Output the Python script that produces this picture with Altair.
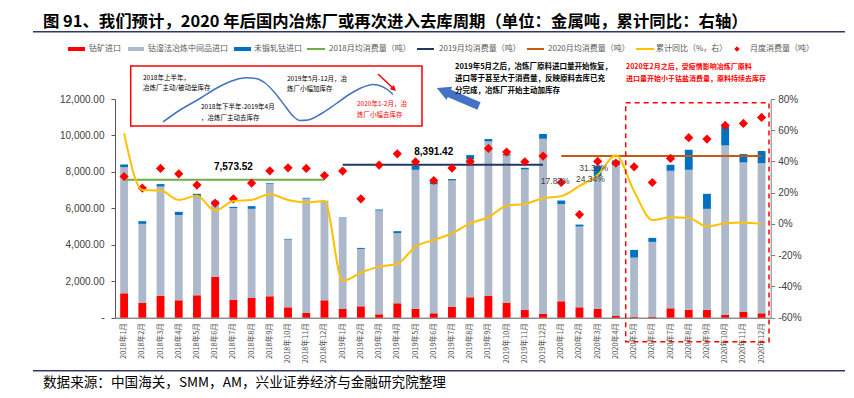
import altair as alt
import pandas as pd

CJK = "Noto Sans CJK SC"
NUM = "Liberation Sans"

# ---------------- data ----------------
years = [2018, 2019, 2020]
months = [f"{y}年{m}月" for y in years for m in range(1, 13)]

bar_names = ["钴矿进口", "钴湿法冶炼中间品进口", "未锻轧钴进口"]
bar_colors = ["#ff0000", "#adb9ca", "#0070c0"]

ore_import = [1340, 824, 1209, 956, 1231, 2253, 989, 1083, 1176, 571, 258, 956,
              478, 626, 187, 791, 495, 242, 588, 1121, 1209, 824, 440, 220,
              901, 571, 478, 93, 40, 60, 516, 440, 440, 148, 313, 242]
intermediate_import = [6925, 4326, 5990, 4671, 5385, 4121, 5022, 4890, 6171, 3715, 6281, 5440,
                       4984, 3149, 5693, 3847, 7621, 7088, 6940, 7583, 8462, 8078, 7693, 9600,
                       5330, 4429, 7272, 8281, 3257, 4100, 7545, 7676, 5533, 9303, 8204, 8242]
metal_import = [142, 147, 131, 181, 181, 46, 72, 148, 38, 39, 38, 17,
                33, 55, 55, 110, 220, 127, 77, 220, 132, 77, 93, 258,
                198, 110, 580, 253, 423, 220, 330, 1099, 824, 1044, 462, 660]
monthly_consumption = [7748, 7110, 8188, 7896, 7275, 6286, 6523, 7385, 8061, 8226, 8188, 7803,
                       8045, 6523, 8374, 8995, 8556, 7528, 8209, 8572, 9287, 9089, 8556, 8869,
                       7418, 5660, 8572, 8484, 8281, 7418, 8737, 9875, 9803, 10550, 10660, 10990]
cumulative_yoy = [58.0, 21.8, 21.4, 15.4, 18.0, 8.5, 14.7, 15.4, 19.0, 15.4, 13.9, 14.7,
                  -36.5, -31.2, -27.3, -25.6, -14.5, -10.3, -6.0, 0.4, 4.3, 11.7, 12.8, 16.5,
                  17.83, 24.34, 31.38, 44.0, 21.0, 2.5, 4.3, 3.8, -1.5, 0.4, 1.0, 0.0]

avg_names = ["2018月均消费量（吨）", "2019月均消费量（吨）", "2020月均消费量（吨）"]
avg_values = [7573.52, 8391.42, 8871.0]
avg_colors = ["#70ad47", "#203864", "#c55a11"]
avg_label_months = ["2018年7月", "2019年6月"]

yoy_name = "累计同比（%，右）"
cons_name = "月度消费量（吨）"
yoy_label_months = ["2020年1月", "2020年2月", "2020年3月"]

# ---------------- geometry ----------------
W, H = 655.7, 218.7
OX, OY = 115, 99  # plot origin on page

bar_rows = []
for i, m in enumerate(months):
    for k, (name, vals) in enumerate(zip(bar_names, [ore_import, intermediate_import, metal_import])):
        bar_rows.append({"month": m, "series": name, "value": vals[i], "ord": k})
bars_df = pd.DataFrame(bar_rows)
cons_df = pd.DataFrame({"month": months, "value": monthly_consumption})
yoy_df = pd.DataFrame({"month": months, "yoy": cumulative_yoy})

avg_lab_df = pd.DataFrame({"month": avg_label_months, "value": avg_values[:2],
                           "label": [f"{v:,.2f}" for v in avg_values[:2]]})

xscale = alt.Scale(domain=months, paddingInner=0.57, paddingOuter=0.285)
xaxis = alt.Axis(title=None, labelAngle=270, labelFontSize=7.5, labelFont=CJK,
                 labelColor="#595959", ticks=False, labelPadding=5,
                 domainColor="#595959", labelOverlap=False)
X = alt.X("month:N", sort=months, scale=xscale, axis=xaxis)

lscale = alt.Scale(domain=[0, 12000], nice=False, zero=True)
laxis = alt.Axis(title=None, values=list(range(0, 12001, 2000)),
                 labelExpr="datum.value == 0 ? '-' : format(datum.value, ',.2f')",
                 labelFont=NUM, labelFontSize=10, labelColor="#404040",
                 domainColor="#595959", tickColor="#595959", tickSize=4,
                 labelPadding=7, grid=False)
rscale = alt.Scale(domain=[-60, 80], nice=False, zero=False)
raxis = alt.Axis(title=None, orient="right", values=list(range(-60, 81, 20)),
                 labelExpr="datum.value + '%'", labelFont=NUM, labelFontSize=10,
                 labelColor="#404040", domainColor="#7f7f7f", tickColor="#7f7f7f",
                 tickSize=4, labelPadding=3, grid=False)

bars = alt.Chart(bars_df).mark_bar().encode(
    x=X,
    y=alt.Y("value:Q", stack="zero", scale=lscale, axis=laxis),
    color=alt.Color("series:N", scale=alt.Scale(domain=bar_names, range=bar_colors), legend=None),
    order=alt.Order("ord:Q", sort="ascending"),
)
avg_layers = []
for y, v, col in zip(years, avg_values, avg_colors):
    d = pd.DataFrame({"month": [f"{y}年1月", f"{y}年12月"], "value": [v, v]})
    avg_layers.append(alt.Chart(d).mark_line(strokeWidth=2, color=col).encode(
        x=X, y=alt.Y("value:Q", scale=lscale, axis=laxis)))
avg_labels = alt.Chart(avg_lab_df).mark_text(
    fontWeight="bold", fontSize=10, font=NUM, color="#000000", dy=-13
).encode(x=X, y=alt.Y("value:Q", scale=lscale, axis=laxis), text="label:N")
diamonds = alt.Chart(cons_df).mark_point(
    shape="diamond", filled=True, size=85, color="#ff0000", opacity=1
).encode(x=X, y=alt.Y("value:Q", scale=lscale, axis=laxis))

left = alt.layer(bars, *avg_layers, avg_labels, diamonds)

yoy_line = alt.Chart(yoy_df).mark_line(
    color="#ffc000", strokeWidth=2, interpolate="monotone"
).encode(x=X, y=alt.Y("yoy:Q", scale=rscale, axis=raxis))

yoy_text_layers = []
for m, dx, dy in zip(yoy_label_months, [-6, 11, -4], [-15, -7, -7]):
    d = yoy_df[yoy_df["month"] == m].copy()
    d["label"] = [f"{v:.2f}%" for v in d["yoy"]]
    yoy_text_layers.append(
        alt.Chart(d).mark_text(fontSize=8.5, font=NUM, color="#404040", dx=dx, dy=dy).encode(
            x=X, y=alt.Y("yoy:Q", scale=rscale, axis=raxis), text="label:N"))

right = alt.layer(yoy_line, *yoy_text_layers)
main = alt.layer(left, right).resolve_scale(y="independent")

# ---------------- annotations (page pixel positions) ----------------
one = pd.DataFrame({"k": [0]})


def txt(s, x, y, size, color="#000000", weight="normal", font=CJK, align="left"):
    return alt.Chart(pd.DataFrame({"t": [s]})).mark_text(
        align=align, baseline="middle", fontSize=size, font=font, color=color, fontWeight=weight
    ).encode(x=alt.value(x - OX), y=alt.value(y - OY), text="t:N")


def rule(x1, y1, x2, y2, color, width, dash=None):
    kw = dict(color=color, strokeWidth=width)
    if dash:
        kw["strokeDash"] = dash
    return alt.Chart(one).mark_rule(**kw).encode(
        x=alt.value(x1 - OX), y=alt.value(y1 - OY), x2=alt.value(x2 - OX), y2=alt.value(y2 - OY))


def box(x1, y1, x2, y2, color, width=1.5, dash=None, fill=None):
    kw = dict(stroke=color, strokeWidth=width)
    if fill:
        kw["fill"] = fill
    else:
        kw["fillOpacity"] = 0
    if dash:
        kw["strokeDash"] = dash
    return alt.Chart(one).mark_rect(**kw).encode(
        x=alt.value(x1 - OX), y=alt.value(y1 - OY), x2=alt.value(x2 - OX), y2=alt.value(y2 - OY))


def head(x, y, angle, size, color):
    return alt.Chart(one).mark_point(
        shape="M0,-1L0.95,0.8L-0.95,0.8Z", filled=True, size=size, color=color,
        opacity=1, angle=angle
    ).encode(x=alt.value(x - OX), y=alt.value(y - OY))


annos = []
# title and rules
annos.append(txt("图 91、我们预计，2020 年后国内冶炼厂或再次进入去库周期（单位：金属吨，累计同比：右轴）",
                 43, 22, 16.4, weight="bold"))
annos.append(rule(33, 31.7, 845, 31.7, "#2e3766", 1.5))
annos.append(rule(33, 370.7, 845, 370.7, "#2e3766", 1.5))
annos.append(txt("数据来源：中国海关，SMM，AM，兴业证券经济与金融研究院整理", 43, 383, 13.6))

# legend
leg_y = 49
for (x1, x2, tx), name, col in zip([(68, 85, 89), (128, 144, 148), (234, 251, 254)], bar_names, bar_colors):
    annos.append(box(x1, leg_y - 2, x2, leg_y + 2, col, width=0, fill=col))
    annos.append(txt(name, tx, leg_y, 8, color="#595959"))
for (x1, x2, tx), name, col in zip([(307, 325, 329), (417, 434, 439), (527, 544, 548)], avg_names, avg_colors):
    annos.append(rule(x1, leg_y, x2, leg_y, col, 2))
    annos.append(txt(name, tx, leg_y, 8, color="#595959"))
annos.append(rule(636, leg_y, 654, leg_y, "#ffc000", 2))
annos.append(txt(yoy_name, 656, leg_y, 8, color="#595959"))
annos.append(alt.Chart(one).mark_point(shape="diamond", filled=True, size=30, color="#ff0000", opacity=1)
             .encode(x=alt.value(737 - OX), y=alt.value(leg_y - OY)))
annos.append(txt(cons_name, 750, leg_y, 8, color="#595959"))

# inventory-cycle box
annos.append(box(130.7, 66, 422, 126, "#ff0000", width=1.5))
wave_x = [163, 180, 200, 215, 228, 240, 247, 256, 265, 275, 285, 293, 300, 308, 320, 335, 350, 362, 373, 382, 388, 393]
wave_y = [122, 110, 98.5, 89, 82.5, 78.5, 77.7, 78.5, 83, 93, 106, 116, 120.5, 120, 114.5, 104.5, 94, 87.5, 84.5, 86.5, 90, 94.5]
wave_df = pd.DataFrame({"px": [v - OX for v in wave_x], "py": [v - OY for v in wave_y]})
annos.append(alt.Chart(wave_df).mark_line(color="#4472c4", strokeWidth=1.5, interpolate="monotone").encode(
    x=alt.X("px:Q", scale=None, axis=None), y=alt.Y("py:Q", scale=None, axis=None), order="px:Q"))
annos.append(txt("2018年上半年，", 143, 77.7, 6.5))
annos.append(txt("冶炼厂主动/被动垒库存", 143, 87.5, 6.5))
annos.append(txt("2018年下半年-2019年4月", 201, 107, 6.5))
annos.append(txt("，冶炼厂主动去库存", 201, 118.3, 6.5))
annos.append(txt("2019年5月-12月，冶", 287, 79, 6.5))
annos.append(txt("炼厂小幅加库存", 287, 89.3, 6.5))
annos.append(txt("2020年1-2月，冶", 357, 104, 6.5, color="#ff0000"))
annos.append(txt("炼厂小幅去库存", 357, 115, 6.5, color="#ff0000"))
annos.append(rule(378, 74, 393.7, 88.8, "#ff0000", 1.5))
annos.append(head(393.7, 88.8, 133.4, 40, "#ff0000"))

# blue arrow + black note
annos.append(rule(479, 106, 445, 91.5, "#4472c4", 8))
annos.append(head(443.8, 90.9, 293.2, 230, "#4472c4"))
annos.append(txt("2019年5月之后，冶炼厂原料进口量开始恢复，", 455, 66.7, 7.5, weight="bold"))
annos.append(txt("进口等于甚至大于消费量，反映原料去库已充", 455, 79, 7.5, weight="bold"))
annos.append(txt("分完成，冶炼厂开始主动加库存", 455, 91, 7.5, weight="bold"))

# red note + dashed box
annos.append(txt("2020年2月之后，受疫情影响冶炼厂原料", 626, 67.3, 7, color="#ff0000", weight="bold"))
annos.append(txt("进口量开始小于钴盐消费量，原料持续去库存", 626, 79.3, 7, color="#ff0000", weight="bold"))
annos.append(box(625.7, 102.7, 769, 341.7, "#ff0000", width=1.5, dash=[5, 4]))

chart = alt.layer(main, *annos).resolve_scale(x="independent", y="independent").properties(
    width=W, height=H,
    autosize=alt.AutoSizeParams(type="none"),
    padding={"left": OX - 8, "top": OY - 8, "right": 838 - (OX - 8) - W, "bottom": 382 - (OY - 8) - H},
    background="white",
).configure_view(stroke=None)

chart.save("out.html", embed_options={"renderer": "svg", "actions": False})
